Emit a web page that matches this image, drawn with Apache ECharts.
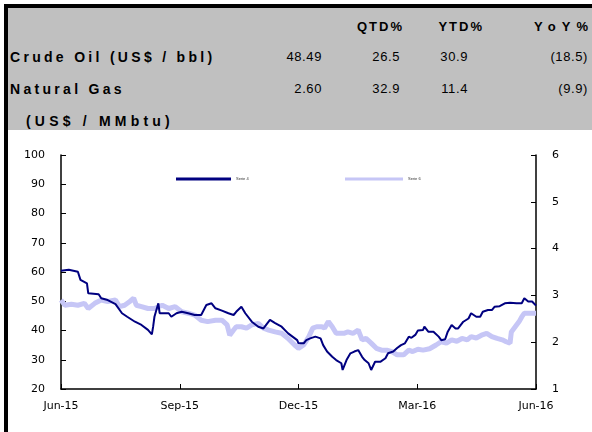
<!DOCTYPE html>
<html>
<head>
<meta charset="UTF-8">
<title>Crude Oil / Natural Gas</title>
<script src="https://cdn.jsdelivr.net/npm/echarts@6/dist/echarts.min.js"></script>
<style>
body{margin:0;background:#fff;width:592px;height:432px;overflow:hidden;position:relative;font-family:"Liberation Sans",Arial,sans-serif;}
.frame{position:absolute;left:4px;top:4px;width:620px;height:460px;border-top:4px solid #000;border-left:4px solid #000;}
.head{position:absolute;left:8px;top:8px;width:584px;height:122px;background:#c0c0c0;}
.t{position:absolute;font-size:13px;line-height:16px;color:#000;white-space:nowrap;}
.h{font-weight:bold;letter-spacing:2px;}
.b{font-weight:bold;font-size:14px;letter-spacing:3.3px;}
.m{font-weight:bold;font-size:14px;letter-spacing:4.2px;}
.w{font-weight:bold;letter-spacing:6px;}
.n{letter-spacing:0.6px;text-align:right;}
#chart{position:absolute;left:0;top:0;width:592px;height:432px;}
</style>
</head>
<body>
<div class="frame"></div>
<div class="head"></div>
<div id="hdr"></div>
<div id="chart"></div>
<script>
// header table
var colHeads = ['QTD%', 'YTD%', 'YoY%'];
var rowNames = ['Crude Oil (US$ / bbl)', 'Natural Gas'];
var rowNote = '(US$ / MMbtu)';
var rowVals = [
    ['48.49', '26.5', '30.9', '(18.5)'],
    ['2.60', '32.9', '11.4', '(9.9)']
];

// chart data: days since 30-Jun-2015
var xTicks = ['Jun-15', 'Sep-15', 'Dec-15', 'Mar-16', 'Jun-16'];
var oilDays = [0,6,7,13,15,20,21,29,31,36,42,47,51,57,62,67,70,71,72,75,76,83,85,89,93,98,103,108,112,116,119,124,129,133,135,139,142,147,152,156,161,165,170,175,182,183,187,189,192,196,200,202,205,209,212,216,217,220,223,226,229,232,234,237,239,242,246,250,252,256,259,262,265,268,270,273,275,279,280,283,287,291,293,296,298,301,304,306,310,314,316,320,323,325,329,332,334,338,342,346,351,355,357,360,363,366];
var oilVals = [60.4,60.8,61.2,60.1,57.3,56.1,52.7,52.4,51.0,50.4,49.0,45.9,44.7,43.0,41.9,40.2,38.7,41.3,44.7,49.3,45.9,45.9,44.7,45.9,46.4,45.9,45.3,45.3,48.7,49.3,47.6,46.8,45.9,45.3,46.4,48.1,45.9,43.0,41.3,40.7,43.6,42.5,41.3,39.0,36.7,35.6,35.6,36.7,37.3,37.9,37.3,35.0,32.8,31.0,29.9,28.8,26.5,29.9,32.2,32.8,33.3,31.0,29.9,28.8,26.5,29.3,29.3,30.5,32.2,32.8,34.0,35.0,35.6,37.9,37.5,38.5,40.0,40.2,41.3,39.6,39.6,37.9,36.7,37.0,39.6,41.9,40.7,40.7,43.0,44.1,45.9,44.7,44.7,46.4,47.0,47.0,48.1,48.3,49.3,49.5,49.3,49.3,51.0,49.9,49.9,48.5];
var gasDays = [0,3,8,13,18,21,26,31,36,42,45,49,53,56,58,62,67,72,78,83,88,93,98,103,108,113,119,124,128,130,133,135,139,143,147,152,156,160,165,170,175,180,183,187,191,194,197,201,203,206,209,212,218,221,225,229,232,235,239,243,247,251,255,259,264,268,271,275,279,284,289,293,297,301,305,309,313,316,320,324,328,332,336,340,343,346,347,350,353,355,357,361,366];
var gasVals = [2.90,2.79,2.81,2.79,2.83,2.72,2.83,2.90,2.87,2.90,2.76,2.79,2.87,2.94,2.79,2.76,2.72,2.72,2.79,2.72,2.76,2.65,2.62,2.58,2.47,2.44,2.47,2.47,2.37,2.15,2.26,2.33,2.33,2.30,2.37,2.40,2.30,2.26,2.22,2.19,2.08,1.94,1.87,1.94,2.12,2.30,2.33,2.33,2.30,2.44,2.33,2.19,2.19,2.22,2.19,2.26,2.05,2.08,1.98,1.87,1.83,1.83,1.80,1.73,1.73,1.83,1.80,1.85,1.83,1.86,1.94,2.01,1.98,2.05,2.02,2.08,2.05,2.12,2.09,2.15,2.19,2.12,2.08,2.05,2.01,1.98,2.22,2.33,2.44,2.54,2.62,2.62,2.62];

// header text
var hdr = document.getElementById('hdr');
function put(txt, cls, x, y, right) {
    var s = document.createElement('div');
    s.className = 't ' + cls;
    s.textContent = txt;
    s.style.top = (y - 8) + 'px';
    if (right) { s.style.right = (592 - x) + 'px'; } else { s.style.left = x + 'px'; }
    hdr.appendChild(s);
}
var headRight = [404, 484, 594];
var headCls = ['h', 'h', 'w'];
var valRight = [322, 400, 468, 588];
var rowY = [57, 89];
for (var i = 0; i < colHeads.length; i++) put(colHeads[i], headCls[i], headRight[i], 27, true);
for (var r = 0; r < rowNames.length; r++) {
    put(rowNames[r], 'b', 10, rowY[r], false);
    for (var c = 0; c < rowVals[r].length; c++) put(rowVals[r][c], 'n', valRight[c], rowY[r], true);
}
put(rowNote, 'm', 26, 121, false);

var oilData = oilDays.map(function (d, k) { return [d, oilVals[k]]; });
var gasData = gasDays.map(function (d, k) { return [d, gasVals[k]]; });

var axisFont = { fontFamily: 'DejaVu Sans', fontSize: 11, color: '#000' };
var myChart = echarts.init(document.getElementById('chart'));
var option = {
    animation: false,
    grid: { left: 61, right: 56, top: 155, bottom: 43 },
    legend: [
        { data: ['Serie 4'], left: 171, top: 172, itemWidth: 55, itemHeight: 3, icon: 'rect', itemGap: 5,
          textStyle: { fontSize: 4, color: '#333' } },
        { data: ['Serie 6'], left: 340, top: 172, itemWidth: 58, itemHeight: 3, icon: 'rect', itemGap: 5,
          textStyle: { fontSize: 4, color: '#333' } }
    ],
    xAxis: {
        type: 'value', min: 0, max: 366, interval: 91.5,
        splitLine: { show: false },
        axisLine: { lineStyle: { color: '#000', width: 1.5 } },
        axisTick: { inside: true, length: 5, lineStyle: { color: '#000' } },
        axisLabel: Object.assign({ margin: 12, showMinLabel: true, showMaxLabel: true,
            formatter: function (v) { return xTicks[Math.round(v / 91.5)]; } }, axisFont)
    },
    yAxis: [
        { type: 'value', min: 20, max: 100, interval: 10, position: 'left',
          splitLine: { show: false },
          axisLine: { show: true, lineStyle: { color: '#000', width: 1.5 } },
          axisTick: { show: true, inside: true, length: 5, lineStyle: { color: '#000' } },
          axisLabel: Object.assign({ margin: 16 }, axisFont) },
        { type: 'value', min: 1, max: 6, interval: 1, position: 'right',
          splitLine: { show: false },
          axisLine: { show: true, lineStyle: { color: '#000', width: 1.5 } },
          axisTick: { show: true, inside: true, length: 5, lineStyle: { color: '#000' } },
          axisLabel: Object.assign({ margin: 16 }, axisFont) }
    ],
    series: [
        { name: 'Serie 6', type: 'line', yAxisIndex: 1, data: gasData, showSymbol: false, z: 2,
          itemStyle: { color: '#c6c6f6' }, lineStyle: { color: '#c6c6f6', width: 5 } },
        { name: 'Serie 4', type: 'line', yAxisIndex: 0, data: oilData, showSymbol: false, z: 3,
          itemStyle: { color: '#000080' }, lineStyle: { color: '#000080', width: 2 } }
    ]
};
myChart.setOption(option);
</script>
</body>
</html>
